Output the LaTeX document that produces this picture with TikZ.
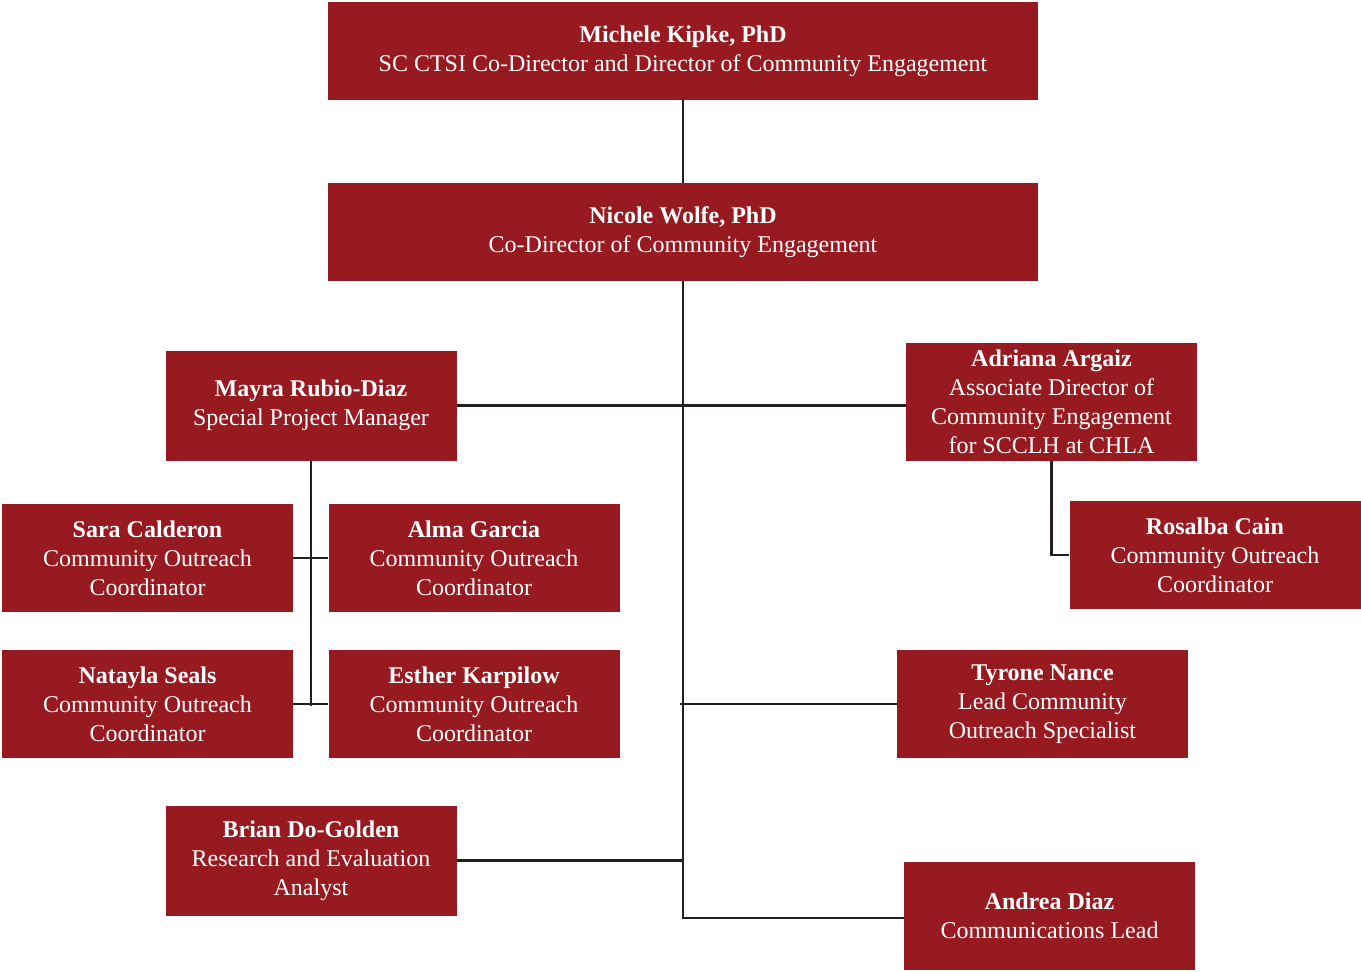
\documentclass[tikz,border=0pt]{standalone}
\usepackage{fontspec}
\setmainfont{Liberation Serif}
\definecolor{uscred}{RGB}{151,26,32}
\definecolor{linkgray}{RGB}{35,31,32}
\newcommand{\person}[2]{\textbf{#1}\\#2}

\begin{document}
\begin{tikzpicture}[x=1pt, y=-1pt]
  \tikzset{
    staff/.style={fill=uscred, text=white, align=center, inner sep=0pt,
      minimum width=291pt, minimum height=108pt,
      font=\fontsize{24}{29}\selectfont},
    headbox/.style={staff, minimum width=710pt, minimum height=98pt},
    link/.style={draw=linkgray, line width=2.5pt}
  }
  \useasboundingbox (0,0) rectangle (1361,972);
  % top of the chart
  \node[headbox] (kipke) at (683,51) {\person{Michele Kipke, PhD}{SC CTSI Co-Director and Director of Community Engagement}};
  \node[headbox] (wolfe) at (683,232) {\person{Nicole Wolfe, PhD}{Co-Director of Community Engagement}};
  % left branch
  \node[staff, minimum height=110pt] (rubio) at (311,405.5) {\person{Mayra Rubio-Diaz}{Special Project Manager}};
  \node[staff] (calderon) at (147.5,558) {\person{Sara Calderon}{Community Outreach\\Coordinator}};
  \node[staff] (garcia) at (474,558) {\person{Alma Garcia}{Community Outreach\\Coordinator}};
  \node[staff] (seals) at (147.5,704) {\person{Natayla Seals}{Community Outreach\\Coordinator}};
  \node[staff] (karpilow) at (474,704) {\person{Esther Karpilow}{Community Outreach\\Coordinator}};
  \node[staff, minimum height=110pt] (dogolden) at (311,860.5) {\person{Brian Do-Golden}{Research and Evaluation\\Analyst}};
  % right branch
  \node[staff, minimum height=118pt] (argaiz) at (1051.5,401.5) {\person{Adriana Argaiz}{Associate Director of\\Community Engagement\\for SCCLH at CHLA}};
  \node[staff] (cain) at (1215,555) {\person{Rosalba Cain}{Community Outreach\\Coordinator}};
  \node[staff] (nance) at (1042.5,704) {\person{Tyrone Nance}{Lead Community\\Outreach Specialist}};
  \node[staff] (adiaz) at (1049.5,916) {\person{Andrea Diaz}{Communications Lead}};
  % connectors
  \coordinate (trunkend) at (683,918);
  \coordinate (nancejoin) at (680,704);
  \coordinate (rubioend) at (311,706);
  \draw[link] (kipke.south) -- (wolfe.north);
  \draw[link] (wolfe.south) -- (trunkend) -- (adiaz.west |- trunkend);
  \draw[link] (rubio.east) -- (argaiz.west |- rubio.east);
  \draw[link] (nancejoin) -- (nance.west);
  \draw[link] (dogolden.east) -- (dogolden.east -| trunkend);
  \draw[link] (rubio.south) -- (rubioend);
  \draw[link] (calderon.east) -- (garcia.west);
  \draw[link] (seals.east) -- (karpilow.west);
  \draw[link] (argaiz.south) |- (cain.west);
\end{tikzpicture}
\end{document}
